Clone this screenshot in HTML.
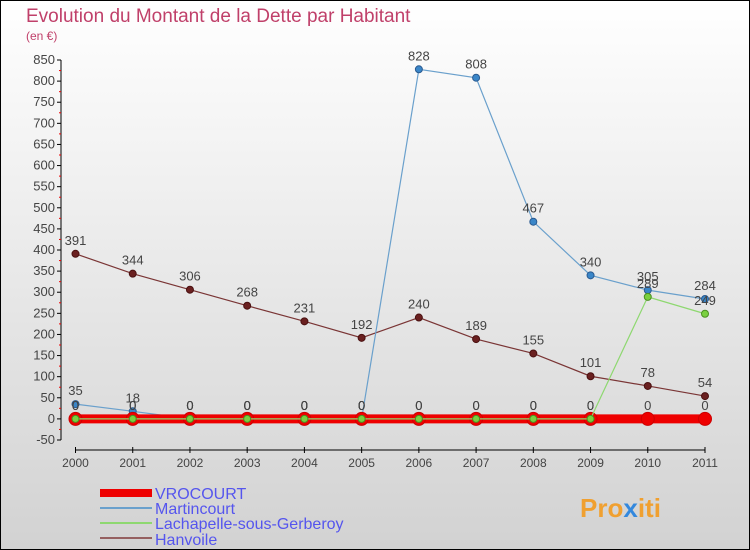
<!DOCTYPE html>
<html><head><meta charset="utf-8"><style>
body{margin:0}
svg{display:block;font-family:"Liberation Sans",sans-serif}
</style></head><body>
<svg id="c" width="750" height="550">
<defs><linearGradient id="bg" x1="0" y1="0" x2="0" y2="1"><stop offset="0" stop-color="#ffffff"/><stop offset="1" stop-color="#d2d2d2"/></linearGradient></defs>
<rect x="0.5" y="0.5" width="749" height="549" fill="url(#bg)" stroke="#000"/>
<text x="26" y="22" font-size="19" fill="#c0406a">Evolution du Montant de la Dette par Habitant</text>
<text x="26" y="40" font-size="12" fill="#c0406a">(en €)</text>
<g id="axes"></g><g id="series"></g>
<g>
<rect x="100" y="489" width="52" height="8" fill="#e00"/>
<text x="155" y="499" font-size="16" fill="#5555ee">VROCOURT</text>
<line x1="100" y1="508" x2="152" y2="508" stroke="#6aa0cc" stroke-width="2"/>
<text x="155" y="514" font-size="16" fill="#5555ee">Martincourt</text>
<line x1="100" y1="523" x2="152" y2="523" stroke="#8ed870" stroke-width="2"/>
<text x="155" y="529" font-size="16" fill="#5555ee">Lachapelle-sous-Gerberoy</text>
<line x1="100" y1="538" x2="152" y2="538" stroke="#956060" stroke-width="2"/>
<text x="155" y="545" font-size="16" fill="#5555ee">Hanvoile</text>
</g>
<text x="580" y="517" font-size="26" font-weight="bold" fill="#f0a030">Pro<tspan fill="#3388dd">x</tspan>iti</text>
</svg>
<script>
const years=[2000,2001,2002,2003,2004,2005,2006,2007,2008,2009,2010,2011];
const yTicks=[-50,0,50,100,150,200,250,300,350,400,450,500,550,600,650,700,750,800,850];
const vrocourt=[0,0,0,0,0,0,0,0,0,0,0,0];
const martincourt=[35,18,0,0,0,0,828,808,467,340,305,284];
const lachapelle=[0,0,0,0,0,0,0,0,0,0,289,249];
const hanvoile=[391,344,306,268,231,192,240,189,155,101,78,54];
const NS='http://www.w3.org/2000/svg';
const x=i=>75.5+i*(705-75.5)/11;
const y=v=>440-(v+50)*380/900;
function mk(p,t,a,txt){const e=document.createElementNS(NS,t);for(const k in a)e.setAttribute(k,a[k]);if(txt!==undefined)e.textContent=txt;p.appendChild(e);return e;}
const ax=document.getElementById('axes');
let l=mk(ax,'line',{x1:61,y1:60,x2:61,y2:440,stroke:'#000'});


yTicks.forEach((v,i)=>{
 mk(ax,'line',{x1:57,x2:61,y1:y(v),y2:y(v),stroke:'#000'});
 if(i<yTicks.length-1)mk(ax,'line',{x1:59,x2:61,y1:y(v+25),y2:y(v+25),stroke:'#e00'});
 const t=mk(ax,'text',{x:55,y:y(v)+4,'font-size':13,fill:'#444','text-anchor':'end'},v);
 
 
});
l=mk(ax,'line',{x1:75,y1:450,x2:705,y2:450,stroke:'#000'});


years.forEach((yr,i)=>{
 mk(ax,'line',{x1:x(i),x2:x(i),y1:447,y2:453,stroke:'#000'});
 const t=mk(ax,'text',{x:x(i),y:467,'font-size':12,fill:'#444','text-anchor':'middle'},yr);
 
 
});
const sg=document.getElementById('series');
function draw(name,vals,col,w,r,fill,stroke,sw){
 const g=mk(sg,'g',{});
 
 
 mk(g,'polyline',{points:vals.map((v,i)=>x(i)+','+y(v)).join(' '),fill:'none',stroke:col,'stroke-width':w});
 vals.forEach((v,i)=>{
  const c=mk(g,'circle',{cx:x(i),cy:y(v),r:r,fill:fill,stroke:stroke,'stroke-width':sw});
  
  
  const t=mk(g,'text',{x:x(i),y:y(v)-9,'font-size':13,fill:'#444','text-anchor':'middle'},v);
  
  
 });
}
draw('hanvoile',hanvoile,'#7a3535',1.2,3.5,'#6a2020','#4a1010',1);
draw('martincourt',martincourt,'#6aa0cc',1.2,3.5,'#3a86c8','#2a5a90',1);
draw('vrocourt',vrocourt,'#e00',9,6.5,'#e00','#c00',1);
draw('lachapelle',lachapelle,'#8ed870',1.2,3.5,'#7ad040','#4a9020',1);
</script>
</body></html>
